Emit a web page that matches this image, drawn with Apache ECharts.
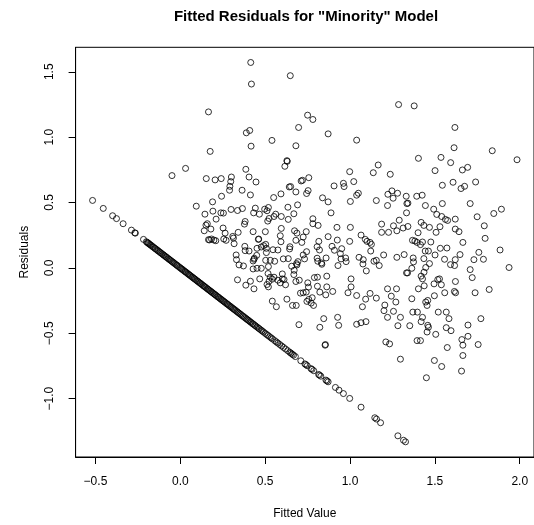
<!DOCTYPE html>
<html>
<head>
<meta charset="utf-8">
<script src="https://cdn.jsdelivr.net/npm/echarts@6/dist/echarts.min.js"></script>
<style>
  html, body { margin: 0; padding: 0; background: #fff; }
  #chart { width: 534px; height: 525px; }
</style>
</head>
<body>
<div id="chart"></div>
<script>
// labels
var chartTitle = 'Fitted Residuals for "Minority" Model';
var xName = 'Fitted Value';
var yName = 'Residuals';
var xTicks = [-0.5, 0.0, 0.5, 1.0, 1.5, 2.0];
var yTicks = [-1.0, -0.5, 0.0, 0.5, 1.0, 1.5];

// residuals of the observations off the diagonal (fitted, residual)
var cloudPts = [
  [0.415,1.571],[0.648,1.470],[0.419,1.406],[1.286,1.249],[1.378,1.239],[0.166,1.193],[0.750,1.168],[0.781,1.135],
  [1.618,1.074],[0.697,1.074],[0.389,1.033],[0.409,1.051],[0.540,0.975],[0.871,1.025],[1.039,0.977],[0.417,0.931],
  [0.681,0.934],[1.613,0.919],[0.176,0.891],[1.838,0.896],[1.984,0.827],[1.403,0.838],[1.536,0.845],[1.593,0.805],
  [0.628,0.820],[0.630,0.815],[0.616,0.777],[0.031,0.761],[-0.049,0.706],[0.386,0.754],[1.137,0.728],[1.166,0.787],
  [0.998,0.736],[1.237,0.716],[1.501,0.744],[1.662,0.749],[1.693,0.769],[0.153,0.683],[0.205,0.673],[0.241,0.683],
  [0.301,0.695],[0.405,0.695],[0.446,0.657],[0.297,0.660],[0.712,0.665],[0.720,0.670],[0.757,0.690],[0.906,0.627],
  [0.961,0.647],[0.965,0.622],[1.022,0.660],[1.544,0.632],[1.607,0.655],[1.675,0.624],[1.654,0.607],[1.740,0.657],
  [0.650,0.622],[0.642,0.619],[0.292,0.624],[0.290,0.594],[0.364,0.594],[0.243,0.548],[0.190,0.505],[0.413,0.558],
  [0.593,0.566],[0.681,0.581],[0.744,0.569],[0.753,0.591],[0.550,0.538],[0.838,0.536],[0.871,0.505],[1.002,0.508],
  [1.039,0.556],[1.049,0.571],[1.155,0.515],[1.223,0.563],[1.247,0.589],[1.254,0.533],[1.280,0.571],[1.331,0.548],
  [1.335,0.492],[1.341,0.495],[1.393,0.548],[1.425,0.556],[1.444,0.477],[1.544,0.492],[1.708,0.492],[0.094,0.472],
  [0.691,0.482],[1.221,0.477],[0.634,0.464],[0.519,0.462],[0.497,0.449],[0.442,0.457],[0.366,0.454],[0.299,0.447],
  [0.337,0.439],[0.511,0.437],[0.432,0.421],[0.466,0.411],[0.239,0.421],[0.254,0.419],[0.145,0.411],[0.595,0.393],
  [0.552,0.393],[0.636,0.371],[0.523,0.378],[0.515,0.358],[0.669,0.414],[0.781,0.376],[0.888,0.421],[1.493,0.449],
  [1.511,0.409],[1.540,0.393],[1.562,0.371],[1.575,0.363],[1.620,0.373],[1.749,0.391],[1.847,0.416],[1.892,0.449],
  [1.791,0.322],[1.290,0.365],[1.419,0.348],[0.211,0.373],[0.159,0.338],[0.180,0.297],[0.141,0.284],[0.192,0.434],
  [0.252,0.305],[0.264,0.266],[0.309,0.241],[0.313,0.228],[0.256,0.221],[0.270,0.211],[0.166,0.216],[0.184,0.221],
  [0.198,0.213],[0.209,0.208],[0.317,0.185],[0.341,0.272],[0.378,0.335],[0.382,0.355],[0.429,0.277],[0.501,0.277],
  [0.462,0.221],[0.595,0.302],[0.589,0.246],[0.673,0.284],[0.687,0.266],[0.724,0.236],[0.742,0.277],[0.681,0.211],
  [0.716,0.195],[0.646,0.162],[0.644,0.145],[0.477,0.160],[0.503,0.180],[0.507,0.150],[0.575,0.137],[0.380,0.165],
  [0.382,0.132],[0.405,0.129],[0.329,0.099],[0.331,0.063],[0.346,0.023],[0.372,0.015],[0.429,-0.008],[0.434,0.066],
  [0.436,0.074],[0.450,0.096],[0.460,0.218],[0.744,0.124],[0.816,0.203],[0.806,0.162],[0.820,0.137],[0.871,0.239],
  [0.781,0.338],[0.812,0.325],[0.923,0.310],[0.925,0.213],[0.894,0.165],[0.908,0.135],[0.951,0.147],[0.974,0.076],
  [0.998,0.203],[1.002,0.310],[1.065,0.251],[1.090,0.218],[1.100,0.203],[1.118,0.195],[1.126,0.180],[1.122,0.129],
  [1.053,0.081],[1.078,0.063],[1.076,0.030],[1.096,-0.023],[1.141,0.051],[1.155,0.058],[1.172,0.018],[1.198,0.099],
  [1.186,0.335],[1.186,0.272],[1.227,0.272],[1.256,0.322],[1.276,0.284],[1.313,0.305],[1.341,0.317],[1.333,0.421],
  [1.368,0.211],[1.382,0.206],[1.395,0.195],[1.415,0.178],[1.401,0.269],[1.427,0.198],[1.435,0.325],[1.468,0.310],
  [1.476,0.198],[1.507,0.272],[1.530,0.315],[1.620,0.297],[1.642,0.277],[1.665,0.195],[1.796,0.226],[1.884,0.137],
  [1.937,0.003],[1.759,0.119],[1.786,0.066],[1.730,0.063],[1.648,0.102],[1.620,0.063],[1.592,0.025],[1.616,0.018],
  [1.557,0.066],[1.532,0.150],[1.571,0.152],[1.462,0.129],[1.501,0.099],[1.443,0.129],[1.435,0.071],[1.468,0.033],
  [1.319,0.102],[1.372,0.076],[1.374,0.046],[1.364,-0.003],[1.339,-0.038],[1.333,-0.038],[1.276,0.081],[1.446,0.003],
  [1.436,-0.033],[1.427,-0.084],[1.419,-0.063],[1.403,-0.160],[1.437,-0.137],[1.495,-0.122],[1.517,-0.089],[1.527,-0.084],
  [1.538,-0.129],[1.497,-0.213],[1.621,-0.104],[1.615,-0.180],[1.622,-0.190],[1.558,-0.190],[1.708,-0.013],[1.720,-0.074],
  [1.737,-0.190],[1.820,-0.165],[1.364,-0.236],[1.446,-0.261],[1.458,-0.249],[1.454,-0.287],[1.370,-0.338],[1.397,-0.338],
  [1.419,-0.411],[1.427,-0.378],[1.458,-0.439],[1.462,-0.454],[1.454,-0.490],[1.505,-0.508],[1.520,-0.338],[1.567,-0.338],
  [1.583,-0.388],[1.567,-0.457],[1.595,-0.480],[1.695,-0.437],[1.771,-0.388],[1.755,-0.586],[1.659,-0.548],[1.695,-0.523],
  [1.665,-0.591],[1.665,-0.670],[1.657,-0.789],[1.573,-0.609],[1.497,-0.708],[1.540,-0.754],[1.450,-0.840],[1.395,-0.556],
  [1.415,-0.556],[1.352,-0.442],[1.297,-0.378],[1.282,-0.442],[1.297,-0.698],[1.211,-0.566],[1.233,-0.581],[1.221,-0.378],
  [1.200,-0.327],[1.205,-0.284],[1.243,-0.216],[1.274,-0.160],[1.221,-0.160],[1.270,-0.261],[1.256,-0.332],[1.118,-0.195],
  [1.092,-0.239],[1.073,-0.297],[1.039,-0.211],[0.988,-0.190],[1.006,-0.084],[1.006,-0.145],[1.155,-0.231],[1.039,-0.431],
  [1.065,-0.419],[1.094,-0.411],[0.933,-0.439],[0.927,-0.378],[0.853,-0.591],[0.855,-0.586],[0.845,-0.388],[0.822,-0.454],
  [0.898,-0.180],[0.857,-0.206],[0.863,-0.145],[0.863,-0.063],[0.808,-0.071],[0.790,-0.074],[0.808,-0.140],[0.822,-0.185],
  [0.777,-0.228],[0.785,-0.287],[0.771,-0.269],[0.746,-0.256],[0.757,-0.241],[0.742,-0.185],[0.724,-0.190],[0.708,-0.193],
  [0.699,-0.434],[0.751,-0.114],[0.755,-0.147],[0.701,-0.094],[0.681,-0.104],[0.669,-0.051],[0.671,-0.018],[0.685,0.033],
  [0.693,0.048],[0.656,0.013],[0.607,0.069],[0.601,-0.046],[0.601,-0.084],[0.611,-0.089],[0.589,-0.114],[0.575,-0.094],
  [0.552,-0.071],[0.542,-0.086],[0.530,-0.071],[0.517,-0.043],[0.523,-0.102],[0.511,-0.127],[0.519,-0.145],[0.620,-0.129],
  [0.628,-0.239],[0.661,-0.287],[0.683,-0.287],[0.542,-0.254],[0.566,-0.297],[0.468,-0.084],[0.413,-0.102],[0.386,-0.132],
  [0.434,-0.160],[0.337,-0.091],[0.452,-0.003],[0.477,-0.003],[0.503,0.058],[0.519,0.010],[0.530,0.058],[0.556,0.051],
  [0.636,0.071],[0.687,0.023],[0.724,0.099],[0.732,0.069],[0.806,0.074],[0.810,0.051],[0.832,0.038],[0.859,0.076],
  [0.834,0.028],[0.943,0.109],[0.947,0.069],[0.929,0.018],[0.977,0.048],[0.452,0.150],[0.429,0.053],[0.593,0.200],
  [0.491,0.170],[0.507,0.117],[0.546,0.139],[0.562,0.411],[0.151,0.327],[0.172,0.214]
];

// observations on the diagonal band (fitted, residual)
var linePts = [
  [-0.517,0.516],[-0.454,0.455],[-0.399,0.399],[-0.376,0.377],[-0.337,0.338],[-0.288,0.289],[-0.268,0.268],[-0.265,0.266],
  [-0.217,0.218],[-0.200,0.200],[-0.195,0.195],[-0.190,0.190],[-0.186,0.186],[-0.181,0.181],[-0.176,0.176],[-0.170,0.170],
  [-0.163,0.163],[-0.158,0.158],[-0.150,0.150],[-0.146,0.146],[-0.139,0.139],[-0.133,0.133],[-0.128,0.128],[-0.120,0.120],
  [-0.115,0.115],[-0.108,0.108],[-0.101,0.101],[-0.097,0.097],[-0.090,0.090],[-0.084,0.084],[-0.079,0.079],[-0.071,0.071],
  [-0.066,0.066],[-0.060,0.060],[-0.053,0.053],[-0.047,0.047],[-0.041,0.041],[-0.036,0.036],[-0.029,0.029],[-0.022,0.022],
  [-0.018,0.018],[-0.011,0.011],[-0.004,0.004],[0.002,-0.002],[0.008,-0.008],[0.013,-0.013],[0.019,-0.019],[0.026,-0.026],
  [0.031,-0.031],[0.037,-0.037],[0.044,-0.044],[0.049,-0.049],[0.055,-0.055],[0.061,-0.061],[0.068,-0.068],[0.073,-0.073],
  [0.079,-0.079],[0.085,-0.085],[0.091,-0.091],[0.098,-0.098],[0.103,-0.103],[0.109,-0.109],[0.116,-0.116],[0.121,-0.121],
  [0.127,-0.127],[0.134,-0.134],[0.139,-0.139],[0.145,-0.145],[0.151,-0.151],[0.158,-0.158],[0.163,-0.163],[0.169,-0.169],
  [0.176,-0.176],[0.181,-0.181],[0.187,-0.187],[0.193,-0.193],[0.200,-0.200],[0.205,-0.205],[0.211,-0.211],[0.218,-0.218],
  [0.223,-0.223],[0.229,-0.229],[0.236,-0.236],[0.241,-0.241],[0.247,-0.247],[0.253,-0.253],[0.259,-0.259],[0.265,-0.265],
  [0.272,-0.272],[0.277,-0.277],[0.283,-0.283],[0.290,-0.290],[0.296,-0.296],[0.301,-0.301],[0.308,-0.308],[0.314,-0.314],
  [0.320,-0.320],[0.326,-0.326],[0.333,-0.333],[0.339,-0.339],[0.345,-0.345],[0.352,-0.352],[0.358,-0.358],[0.366,-0.366],
  [0.372,-0.372],[0.379,-0.379],[0.386,-0.386],[0.392,-0.392],[0.398,-0.398],[0.404,-0.404],[0.411,-0.411],[0.417,-0.417],
  [0.425,-0.425],[0.430,-0.430],[0.438,-0.438],[0.444,-0.444],[0.452,-0.452],[0.460,-0.460],[0.466,-0.466],[0.475,-0.475],
  [0.482,-0.482],[0.490,-0.490],[0.500,-0.500],[0.509,-0.509],[0.517,-0.517],[0.526,-0.526],[0.535,-0.535],[0.543,-0.543],
  [0.556,-0.556],[0.566,-0.566],[0.575,-0.575],[0.586,-0.586],[0.597,-0.597],[0.608,-0.608],[0.620,-0.620],[0.633,-0.633],
  [0.645,-0.645],[0.652,-0.652],[0.660,-0.660],[0.667,-0.667],[0.678,-0.678],[0.710,-0.710],[0.734,-0.734],[0.740,-0.740],
  [0.748,-0.748],[0.770,-0.770],[0.776,-0.776],[0.786,-0.786],[0.815,-0.815],[0.820,-0.820],[0.828,-0.828],[0.858,-0.858],
  [0.864,-0.864],[0.871,-0.871],[0.914,-0.914],[0.935,-0.935],[0.961,-0.961],[0.998,-0.998],[1.065,-1.065],[1.146,-1.146],
  [1.156,-1.156],[1.180,-1.184],[1.282,-1.284],[1.315,-1.318],[1.327,-1.330]
];

var minusSign = function (v) { return String(v.toFixed(1)).replace('-', '\u2212'); };

var chart = echarts.init(document.getElementById('chart'), null, { renderer: 'canvas' });

var pointStyle = {
  color: 'rgba(0,0,0,0)',
  borderColor: '#000',
  borderWidth: 1
};

chart.setOption({
  animation: false,
  backgroundColor: '#fff',
  textStyle: { fontFamily: 'Liberation Sans, Arial, sans-serif', color: '#000' },
  title: {
    text: chartTitle,
    left: 306,
    top: 9,
    padding: 0,
    textAlign: 'center',
    textStyle: { fontSize: 15, fontWeight: 'bold', color: '#000', fontFamily: 'Liberation Sans, Arial, sans-serif' }
  },
  grid: {
    left: 75.6,
    right: -0.8,
    top: 47.3,
    bottom: 66.7,
    show: true,
    borderColor: '#000',
    borderWidth: 1,
    containLabel: false
  },
  xAxis: {
    type: 'value',
    min: -0.617,
    max: 2.084,
    name: xName,
    nameLocation: 'middle',
    nameGap: 51,
    nameTextStyle: { fontSize: 12, color: '#000' },
    axisLine: { show: true, onZero: false, lineStyle: { color: '#000', width: 1 } },
    axisTick: { show: true, length: 7, inside: false, customValues: xTicks, lineStyle: { color: '#000' } },
    axisLabel: { show: true, margin: 19, fontSize: 12, color: '#000', customValues: xTicks, formatter: minusSign },
    splitLine: { show: false }
  },
  yAxis: {
    type: 'value',
    min: -1.446,
    max: 1.687,
    name: yName,
    nameLocation: 'middle',
    nameGap: 45,
    nameTextStyle: { fontSize: 12, color: '#000' },
    axisLine: { show: true, onZero: false, lineStyle: { color: '#000', width: 1 } },
    axisTick: { show: true, length: 7, inside: false, customValues: yTicks, lineStyle: { color: '#000' } },
    axisLabel: { show: true, margin: 20, fontSize: 12, rotate: 90, color: '#000', customValues: yTicks, formatter: minusSign },
    splitLine: { show: false }
  },
  series: [
    {
      type: 'scatter',
      data: cloudPts,
      symbol: 'circle',
      symbolSize: 6,
      itemStyle: pointStyle,
      silent: true
    },
    {
      type: 'scatter',
      data: linePts,
      symbol: 'circle',
      symbolSize: 6,
      itemStyle: pointStyle,
      silent: true
    }
  ]
});
</script>
</body>
</html>
